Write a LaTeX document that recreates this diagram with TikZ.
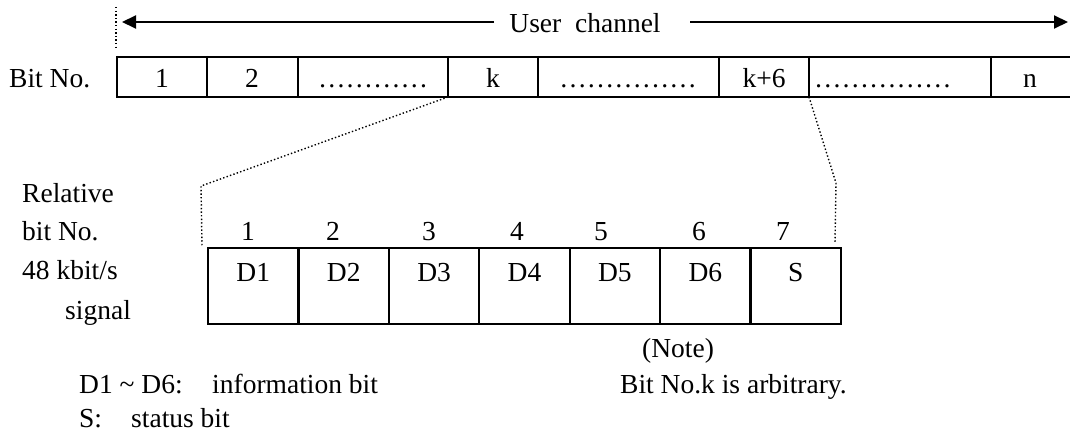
\documentclass[tikz,border=0pt]{standalone}
\usepackage{fontspec}
\setmainfont{Liberation Serif}
\usetikzlibrary{arrows.meta}
\begin{document}
\begin{tikzpicture}[x=1pt,y=-1pt,
  every node/.style={font=\fontsize{27.5}{33}\selectfont, inner sep=0pt},
  txt/.style={anchor=base},
  ltxt/.style={anchor=base west},
  cell/.style={draw, line width=2.2pt, minimum width=90.4pt, minimum height=76pt, anchor=north west},
  bar/.style={line width=2.2pt},
  dots/.style={line width=1.4pt, dash pattern=on 1.4pt off 2.2pt},
  arr/.style={line width=2pt, -{Triangle[length=14pt,width=13pt]}}]
\useasboundingbox (0,0) rectangle (1070,436);

% user channel arrow
\node[txt] (uc) at (585,33) {User~~channel};
\coordinate (al) at (494,22);
\coordinate (ar) at (690,22);
\coordinate (ltip) at (122,22);
\coordinate (rtip) at (1068,22);
\draw[arr] (al) -- (ltip);
\draw[arr] (ar) -- (rtip);
\coordinate (vt) at (116,7);
\coordinate (vb) at (116,50);
\draw[dots] (vt) -- (vb);

% top bar
\draw[bar] (117,57) -- (1070,57);
\draw[bar] (117,97) -- (1070,97);
\foreach \x in {117,207,298,448,538,719,809,991}
  \draw[bar] (\x,56) -- (\x,98);
\coordinate (kb) at (448,97);
\coordinate (k6b) at (809,97);

\node[ltxt] (bitno) at (9,87) {Bit No.};
\node[txt] (t1) at (162,87) {1};
\node[txt] (t2) at (252,87) {2};
\node[txt] (td1) at (373,87) {…………};
\node[txt] (tk) at (493,87) {k};
\node[txt] (td2) at (628,87) {……………};
\node[txt] (tk6) at (764,87) {k+6};
\node[ltxt] (td3) at (814,87) {……………};
\node[txt] (tn) at (1030,87) {n};

% bottom cells
\foreach \i/\x/\lab in {1/207/D1,2/297.4/D2,3/387.8/D3,4/478.2/D4,5/568.6/D5,6/659/D6,7/749.4/S}{
  \node[cell] (c\i) at (\x,247) {};
  \node[txt] (l\i) at ([yshift=5pt]c\i.center) {\lab};
}
\foreach \i/\x in {1/248,2/333,3/429,4/517,5/601,6/699,7/783}
  \node[txt] (r\i) at (\x,240) {\i};

% dotted connectors
\coordinate (lc) at (201,186);
\coordinate (le) at (202,246);
\coordinate (rc) at (836,183);
\coordinate (re) at (835,243);
\draw[dots] (kb) -- (lc) -- (le);
\draw[dots] (k6b) -- (rc) -- (re);

% left labels
\node[ltxt] (rel) at (22,202) {Relative};
\node[ltxt] (bno) at (22,240) {bit No.};
\node[ltxt] (kbit) at (22,279) {48 kbit/s};
\node[ltxt] (sig) at (65,319) {signal};

% notes
\node[ltxt] (note) at (642,357) {(Note)};
\node[ltxt] (arb) at (620,393) {Bit No.k is arbitrary.};
\node[ltxt] (d16) at (79,393) {D1 \textasciitilde{} D6:};
\node[ltxt] (info) at (212,393) {information bit};
\node[ltxt] (s) at (79,427) {S:};
\node[ltxt] (stat) at (131,427) {status bit};
\end{tikzpicture}
\end{document}
